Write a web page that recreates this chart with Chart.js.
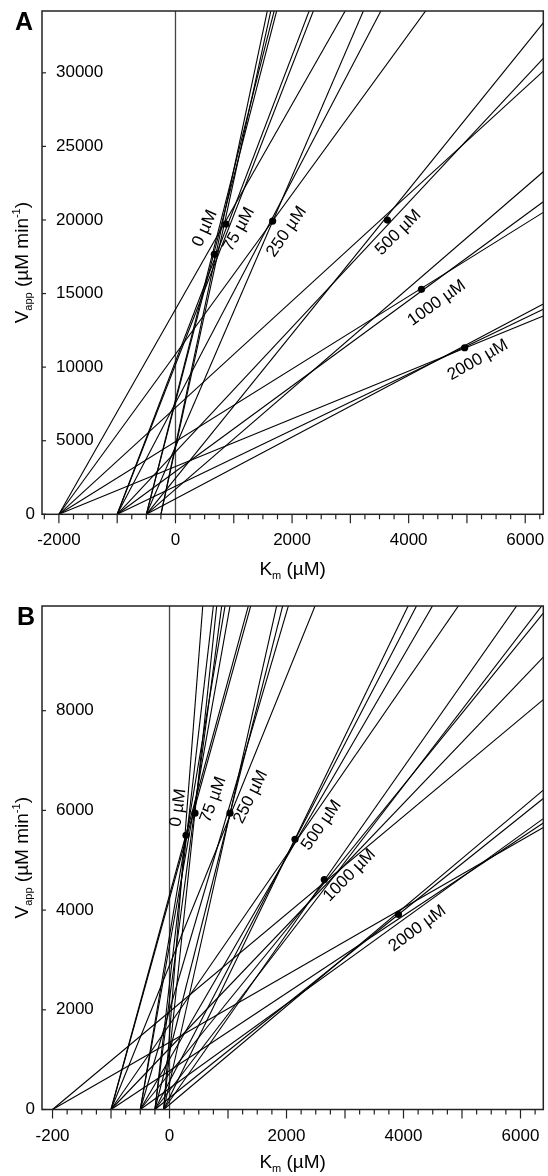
<!DOCTYPE html>
<html>
<head>
<meta charset="utf-8">
<script src="https://cdn.jsdelivr.net/npm/chart.js@4/dist/chart.umd.min.js"></script>
<style>
  body { margin: 0; background: #fff; }
  .panel { position: absolute; left: 0; }
</style>
</head>
<body>
<div class="panel" style="top:0"><canvas id="chartA" width="548" height="590"></canvas></div>
<div class="panel" style="top:595px"><canvas id="chartB" width="548" height="581"></canvas></div>
<script>
// inhibitor concentrations (one group of lines + one dot each)
const inhibitorLabels = ["0 µM", "75 µM", "250 µM", "500 µM", "1000 µM", "2000 µM"];

// PANEL A: substrate concentrations and measured rates (µM min-1), one row per inhibitor
// null = substrate concentration not used for that inhibitor
const substratesA = [250, 500, 1000, 2000];
const ratesA = [
  [4685, 7800, 10386, null],
  [4536, 7650, 10163, 13928],
  [null, 4593, 7561, 10874],
  [null, 2452, 4238, 7248],
  [null, 1709, 2905, 4938],
  [null, 1049, 1905, 3242],
];
const kmAppA = [666, 866, 1667, 3635, 4220, 4961];
const vAppA = [17663, 19721, 19925, 19993, 15285, 11318];
const yTicksA = [0, 5000, 10000, 15000, 20000, 25000, 30000];
const xTicksA = [-2000, 0, 2000, 4000, 6000];
const xTickLabelsA = ["-2000", "0", "2000", "4000", "6000"];

// PANEL B
const substratesB = [100, 250, 500, 1000, 2000];
const ratesB = [
  [1512, 2528, 3485, 4303, null],
  [1114, 2211, 3292, 4229, null],
  [523, 1156, 1995, 2896, null],
  [241.7, 564.6, 1011, 1701, null],
  [167.4, 381.9, 722.5, 1228, 1960],
  [98.7, 234.9, 423.5, 777.7, 1348],
];
const kmAppB = [282, 436, 1034, 2145, 2646, 3914];
const vAppB = [5501, 5945, 5945, 5421, 4613, 3912];
const yTicksB = [0, 2000, 4000, 6000, 8000];
const xTicksB = [-2000, 0, 2000, 4000, 6000];
const xTickLabelsB = ["-200", "0", "2000", "4000", "6000"];

// where the concentration labels sit (data units) and their tilt (deg)
const labelSpotA = [[506, 19429], [1089, 19361], [1907, 19198], [3822, 19144], [4480, 14354], [5185, 10482]];
const labelTiltA = [-65.6, -61, -55.5, -45, -35.5, -29.6];
const labelSpotB = [[150, 6052], [749, 6216], [1388, 6269], [2598, 5701], [3077, 4699], [4239, 3631]];
const labelTiltB = [-82, -70, -63.4, -55, -45.5, -36.5];

const FONT = '"Liberation Sans", Arial, Helvetica, sans-serif';

function richText(ctx, parts, x, y, angle) {
  ctx.save();
  ctx.translate(x, y);
  ctx.rotate(angle);
  ctx.textAlign = "left";
  ctx.textBaseline = "alphabetic";
  let w = 0;
  parts.forEach((p) => {
    ctx.font = p[1] + "px " + FONT;
    w += ctx.measureText(p[0]).width;
  });
  let cx = -w / 2;
  parts.forEach((p) => {
    ctx.font = p[1] + "px " + FONT;
    ctx.fillText(p[0], cx, p[2]);
    cx += ctx.measureText(p[0]).width;
  });
  ctx.restore();
}

// frame, ticks, labels, titles
const decor = {
  id: "decor",
  beforeDatasetsDraw(chart) {
    const ctx = chart.ctx;
    const a = chart.chartArea;
    const x0 = chart.scales.x.getPixelForValue(0);
    ctx.save();
    ctx.strokeStyle = "#444";
    ctx.lineWidth = 1.3;
    ctx.beginPath();
    ctx.moveTo(x0, a.top);
    ctx.lineTo(x0, a.bottom);
    ctx.stroke();
    ctx.restore();
  },
  afterDraw(chart, args, opts) {
    const ctx = chart.ctx;
    const a = chart.chartArea;
    const xs = chart.scales.x;
    const ys = chart.scales.y;
    ctx.save();
    ctx.strokeStyle = "#222";
    ctx.lineWidth = 1.5;
    ctx.strokeRect(a.left, a.top, a.right - a.left, a.bottom - a.top);

    // x ticks: major every 1000, minor every 250
    ctx.lineWidth = 1.2;
    for (let v = Math.ceil(xs.min / 250) * 250; v <= xs.max; v += 250) {
      const px = xs.getPixelForValue(v);
      const len = v % 1000 === 0 ? 9 : 5;
      ctx.beginPath();
      ctx.moveTo(px, a.bottom);
      ctx.lineTo(px, a.bottom + len);
      ctx.stroke();
    }
    ctx.fillStyle = "#000";
    ctx.font = "17px " + FONT;
    ctx.textAlign = "center";
    ctx.textBaseline = "alphabetic";
    opts.xTicks.forEach((v, i) => {
      ctx.fillText(opts.xTickLabels[i], xs.getPixelForValue(v), a.bottom + 31);
    });

    // y ticks (inward), labels inside the frame except 0
    ctx.textBaseline = "middle";
    opts.yTicks.forEach((v) => {
      const py = ys.getPixelForValue(v);
      ctx.beginPath();
      ctx.moveTo(a.left, py);
      ctx.lineTo(a.left + 4, py);
      ctx.stroke();
      if (v === 0) {
        ctx.textAlign = "right";
        ctx.fillText("0", a.left - 7, py);
      } else {
        ctx.textAlign = "left";
        ctx.fillText(String(v), a.left + 14, py);
      }
    });

    // concentration labels
    ctx.font = "17px " + FONT;
    ctx.textAlign = "center";
    ctx.textBaseline = "middle";
    inhibitorLabels.forEach((t, i) => {
      const p = opts.spots[i];
      ctx.save();
      ctx.translate(xs.getPixelForValue(p[0]), ys.getPixelForValue(p[1]));
      ctx.rotate((opts.tilts[i] * Math.PI) / 180);
      ctx.fillText(t, 0, 0);
      ctx.restore();
    });

    // axis titles
    const midX = (a.left + a.right) / 2;
    const midY = (a.top + a.bottom) / 2;
    richText(ctx, [["K", 19, 0], ["m", 11, 4], [" (µM)", 19, 0]], midX, opts.xTitleY, 0);
    richText(ctx, [["V", 19, 0], ["app", 11, 4], [" (µM min", 19, 0], ["-1", 11, -8], [")", 19, 0]],
      28, midY, -Math.PI / 2);

    // panel letter
    ctx.font = "bold 25px " + FONT;
    ctx.textAlign = "left";
    ctx.textBaseline = "alphabetic";
    ctx.fillText(opts.letter, opts.letterX, 30);
    ctx.restore();
  },
};

function buildDatasets(subs, rates, km, vapp, xMax) {
  const sets = [];
  // dots first so they sit on top
  sets.push({
    data: km.map((k, g) => ({ x: k, y: vapp[g] })),
    showLine: false,
    pointRadius: 3.6,
    pointBackgroundColor: "#000",
    pointBorderWidth: 0,
  });
  rates.forEach((row) => {
    row.forEach((v, i) => {
      if (v === null) return;
      const s = subs[i];
      // direct linear plot: line through (-s, 0) and (0, v), run out to the right edge
      sets.push({
        data: [{ x: -s, y: 0 }, { x: xMax, y: (v * (xMax + s)) / s }],
        showLine: true,
        borderColor: "#000",
        borderWidth: 1.1,
        pointRadius: 0,
        fill: false,
      });
    });
  });
  return sets;
}

function makePanel(id, cfg) {
  new Chart(document.getElementById(id), {
    type: "scatter",
    data: { datasets: buildDatasets(cfg.subs, cfg.rates, cfg.km, cfg.vapp, cfg.xMax) },
    options: {
      responsive: false,
      animation: false,
      devicePixelRatio: 1,
      layout: { padding: cfg.padding },
      plugins: {
        legend: { display: false },
        tooltip: { enabled: false },
        decor: cfg.decor,
      },
      scales: {
        x: { type: "linear", min: cfg.xMin, max: cfg.xMax, display: false },
        y: { type: "linear", min: 0, max: cfg.yMax, display: false },
      },
    },
    plugins: [decor],
  });
}

makePanel("chartA", {
  subs: substratesA, rates: ratesA, km: kmAppA, vapp: vAppA,
  xMin: -2290, xMax: 6310, yMax: 34200,
  padding: { left: 42, right: 4.7, top: 11, bottom: 75.7 },
  decor: {
    xTicks: xTicksA, xTickLabels: xTickLabelsA, yTicks: yTicksA,
    spots: labelSpotA, tilts: labelTiltA, xTitleY: 575, letter: "A", letterX: 15,
  },
});

makePanel("chartB", {
  subs: substratesB, rates: ratesB, km: kmAppB, vapp: vAppB,
  xMin: -2180, xMax: 6390, yMax: 10100,
  padding: { left: 42, right: 4.7, top: 11, bottom: 66.5 },
  decor: {
    xTicks: xTicksB, xTickLabels: xTickLabelsB, yTicks: yTicksB,
    spots: labelSpotB, tilts: labelTiltB, xTitleY: 573, letter: "B", letterX: 17,
  },
});
</script>
</body>
</html>
